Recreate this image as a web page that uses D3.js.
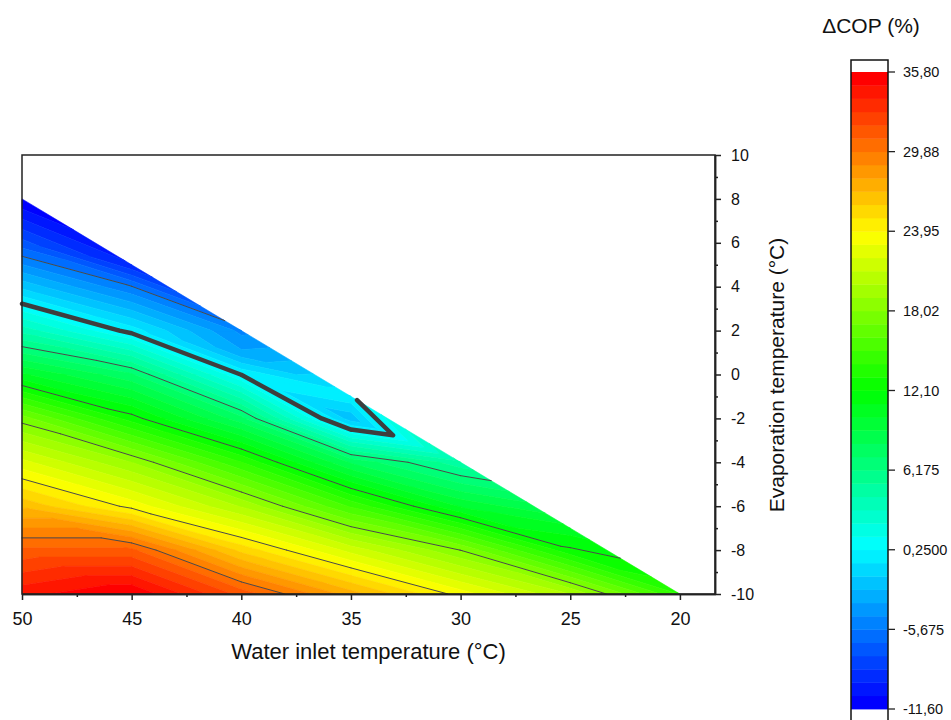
<!DOCTYPE html>
<html lang="en">
<head>
<meta charset="UTF-8">
<title>Delta COP contour</title>
<script src="https://d3js.org/d3.v7.min.js"></script>
<style>
  body { margin: 0; background: #fff; }
  text { font-family: Arial, "Liberation Sans", sans-serif; fill: #111; }
</style>
</head>
<body>
<svg id="chart" width="951" height="720"></svg>
<script>
// measured points: water inlet temperature columns, evaporation temps and dCOP (%)
var water = [50, 45, 40, 35, 30, 25, 20];

var evap50 = [-10, -8, -6, -4, -2, 0, 2, 4, 6, 8];
var dcop50 = [34.5, 31.1, 26.7, 22.3, 17.5, 10.3, 3.8, -2.0, -7.3, -11.6];
var evap45 = [-10, -8, -6, -4, -2, 0, 2, 4, 5];
var dcop45 = [35.8, 31.1, 23.6, 19.0, 12.6, 7.3, -0.2, -5.6, -9.5];
var evap40 = [-10, -8, -6, -4, -2, 0, 1, 2];
var dcop40 = [31.5, 25.6, 19.9, 14.1, 7.5, 0.2, -3.5, -5.0];
var evap35 = [-10, -8, -6, -4, -2, -1];
var dcop35 = [27.4, 21.6, 14.9, 8.0, -2.4, 0.0];
var evap30 = [-10, -8, -6, -4];
var dcop30 = [23.5, 18.0, 10.0, 4.5];
var evap25 = [-10, -8, -7];
var dcop25 = [20.0, 12.3, 10.5];
var evap20 = [-10];
var dcop20 = [14.0];

// colour scale levels
var zMin = -11.6, zMax = 35.8, nBands = 48;
var barTicks = [35.8, 29.875, 23.95, 18.025, 12.1, 6.175, 0.25, -5.675, -11.6];
var barLabels = ["35,80", "29,88", "23,95", "18,02", "12,10", "6,175", "0,2500", "-5,675", "-11,60"];
var lineLevels = [-5.675, 0.25, 6.175, 12.1, 18.025, 23.95, 29.875];
var boldLevel = 0.25;

var xTicks = [50, 45, 40, 35, 30, 25, 20];
var xMinor = [47.5, 42.5, 37.5, 32.5, 27.5, 22.5];
var yTicks = [-10, -8, -6, -4, -2, 0, 2, 4, 6, 8, 10];
var yMinor = [-9, -7, -5, -3, -1, 1, 3, 5, 7, 9];

var svg = d3.select("#chart");

var x = d3.scaleLinear().domain([50, 18.4]).range([22, 715]);
var y = d3.scaleLinear().domain([-10, 10]).range([594, 155]);

var palette = d3.scaleLinear()
  .domain([0, 0.25, 0.5, 0.75, 1])
  .range(["#0000ff", "#00ffff", "#00ff00", "#ffff00", "#ff0000"])
  .interpolate(d3.interpolateRgb);

var step = (zMax - zMin) / nBands;
var levels = d3.range(nBands + 1).map(function(k) { return zMin + k * step; });

// build columns of points
var evaps = [evap50, evap45, evap40, evap35, evap30, evap25, evap20];
var dcops = [dcop50, dcop45, dcop40, dcop35, dcop30, dcop25, dcop20];
var cols = water.map(function(w, i) {
  return evaps[i].map(function(e, j) { return {x: w, y: e, z: dcops[i][j]}; });
});

// triangulate neighbouring columns (zipper)
var tris = [];
for (var c = 0; c < cols.length - 1; c++) {
  var A = cols[c], B = cols[c + 1];
  var i = 0, j = 0;
  while (i < A.length - 1 || j < B.length - 1) {
    var canA = i < A.length - 1, canB = j < B.length - 1;
    var advA = !canB || (canA && A[i].y <= B[j].y);
    if (advA) { tris.push([A[i], A[i + 1], B[j]]); i++; }
    else { tris.push([A[i], B[j], B[j + 1]]); j++; }
  }
}

function clipPoly(poly, level, keepAbove) {
  var out = [];
  for (var k = 0; k < poly.length; k++) {
    var p = poly[k], q = poly[(k + 1) % poly.length];
    var pin = keepAbove ? p.z >= level : p.z <= level;
    var qin = keepAbove ? q.z >= level : q.z <= level;
    if (pin) out.push(p);
    if (pin !== qin) {
      var t = (level - p.z) / (q.z - p.z);
      out.push({x: p.x + t * (q.x - p.x), y: p.y + t * (q.y - p.y), z: level});
    }
  }
  return out;
}

// filled bands
var bandPaths = d3.range(nBands).map(function() { return d3.path(); });
tris.forEach(function(tri) {
  for (var k = 0; k < nBands; k++) {
    var lo = k === 0 ? -Infinity : levels[k];
    var hi = k === nBands - 1 ? Infinity : levels[k + 1];
    var poly = clipPoly(tri, lo, true);
    if (poly.length < 3) continue;
    poly = clipPoly(poly, hi, false);
    if (poly.length < 3) continue;
    var pth = bandPaths[k];
    poly.forEach(function(p, n) {
      if (n === 0) pth.moveTo(x(p.x), y(p.y)); else pth.lineTo(x(p.x), y(p.y));
    });
    pth.closePath();
  }
});

var gFill = svg.append("g");
bandPaths.forEach(function(pth, k) {
  var col = palette(k / (nBands - 1));
  gFill.append("path")
    .attr("d", pth.toString())
    .attr("fill", col)
    .attr("stroke", col)
    .attr("stroke-width", 0.6)
    .attr("stroke-linejoin", "round");
});

// contour lines
var gLines = svg.append("g").attr("fill", "none");
lineLevels.forEach(function(lv) {
  var pth = d3.path();
  tris.forEach(function(tri) {
    var pts = [];
    for (var k = 0; k < 3; k++) {
      var p = tri[k], q = tri[(k + 1) % 3];
      if ((p.z - lv) * (q.z - lv) < 0) {
        var t = (lv - p.z) / (q.z - p.z);
        pts.push([p.x + t * (q.x - p.x), p.y + t * (q.y - p.y)]);
      }
    }
    if (pts.length === 2) {
      pth.moveTo(x(pts[0][0]), y(pts[0][1]));
      pth.lineTo(x(pts[1][0]), y(pts[1][1]));
    }
  });
  var bold = lv === boldLevel;
  gLines.append("path")
    .attr("d", pth.toString())
    .attr("stroke", bold ? "#3e3e3e" : "#4a4a4a")
    .attr("stroke-width", bold ? 4.5 : 1)
    .attr("stroke-linecap", "round")
    .attr("stroke-linejoin", "round");
});

// frame
svg.append("rect")
  .attr("x", 22).attr("y", 155)
  .attr("width", 715 - 22).attr("height", 594 - 155)
  .attr("fill", "none").attr("stroke", "#222").attr("stroke-width", 1.5);

// x axis
var xAxis = svg.append("g")
  .attr("transform", "translate(0,594)")
  .call(d3.axisBottom(x).tickValues(xTicks).tickSize(6).tickSizeOuter(0)
    .tickPadding(12).tickFormat(function(d) { return String(d); }));
svg.append("g")
  .attr("transform", "translate(0,594)")
  .call(d3.axisBottom(x).tickValues(xMinor).tickSize(3).tickSizeOuter(0).tickFormat(""));

// y axis on the right
var yAxis = svg.append("g")
  .attr("transform", "translate(715,0)")
  .call(d3.axisRight(y).tickValues(yTicks).tickSize(6).tickSizeOuter(0)
    .tickPadding(10).tickFormat(function(d) { return String(d); }));
svg.append("g")
  .attr("transform", "translate(715,0)")
  .call(d3.axisRight(y).tickValues(yMinor).tickSize(3).tickSizeOuter(0).tickFormat(""));

svg.selectAll(".domain").attr("stroke", "#222").attr("stroke-width", 1.5);
svg.selectAll(".tick line").attr("stroke", "#222").attr("stroke-width", 1.5);
xAxis.selectAll("text").style("font-size", "18px").attr("fill", "#111")
  .style("font-family", "Arial, 'Liberation Sans', sans-serif");
yAxis.selectAll("text").style("font-size", "16px").attr("fill", "#111")
  .style("font-family", "Arial, 'Liberation Sans', sans-serif");

svg.append("text")
  .attr("x", 368.5).attr("y", 659)
  .attr("text-anchor", "middle")
  .style("font-size", "22px")
  .text("Water inlet temperature (°C)");

svg.append("text")
  .attr("transform", "translate(784,375) rotate(-90)")
  .attr("text-anchor", "middle")
  .style("font-size", "21px")
  .text("Evaporation temperature (°C)");

// colour bar
var yBar = d3.scaleLinear().domain([zMin, zMax]).range([709, 72]);
var gBar = svg.append("g");
gBar.append("rect")
  .attr("x", 851).attr("y", 60).attr("width", 37).attr("height", 661)
  .attr("fill", "#fff");
d3.range(nBands).forEach(function(k) {
  gBar.append("rect")
    .attr("x", 851).attr("width", 37)
    .attr("y", yBar(levels[k + 1]))
    .attr("height", yBar(levels[k]) - yBar(levels[k + 1]) + 0.4)
    .attr("fill", palette(k / (nBands - 1)));
});
gBar.append("rect")
  .attr("x", 851).attr("y", 60).attr("width", 37).attr("height", 661)
  .attr("fill", "none").attr("stroke", "#111").attr("stroke-width", 1.5);

barTicks.forEach(function(t, i) {
  gBar.append("line")
    .attr("x1", 888).attr("x2", 895)
    .attr("y1", yBar(t)).attr("y2", yBar(t))
    .attr("stroke", "#222").attr("stroke-width", 1.3);
  gBar.append("text")
    .attr("x", 903).attr("y", yBar(t))
    .attr("dy", "0.36em")
    .style("font-size", "14.5px")
    .text(barLabels[i]);
});

svg.append("text")
  .attr("x", 871).attr("y", 33)
  .attr("text-anchor", "middle")
  .style("font-size", "21px")
  .text("\u0394COP (%)");
</script>
</body>
</html>
